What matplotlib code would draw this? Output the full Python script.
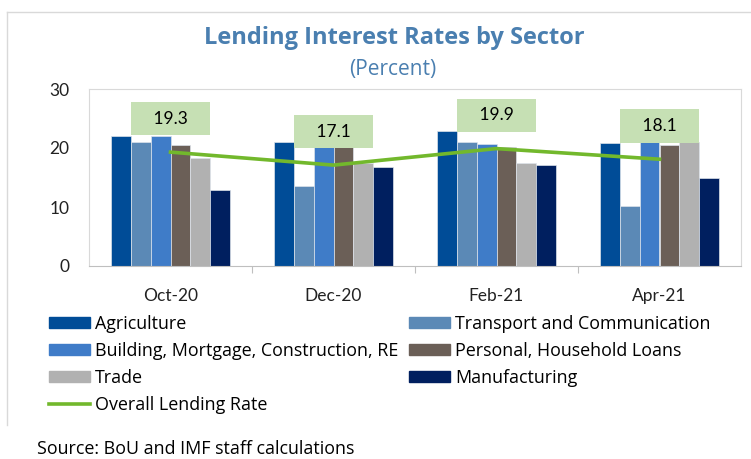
import matplotlib.pyplot as plt
import numpy as np
from matplotlib.patches import Patch
from matplotlib.lines import Line2D

plt.rcParams['font.family'] = ['Lato', 'DejaVu Sans']
fonte_texto = ['Open Sans', 'DejaVu Sans']

# dados
periodos = ['Oct-20', 'Dec-20', 'Feb-21', 'Apr-21']
setores = ['Agriculture', 'Transport and Communication',
           'Building, Mortgage, Construction, RE', 'Personal, Household Loans',
           'Trade', 'Manufacturing']
agriculture = [22.1, 21.1, 22.8, 20.9]
transport = [21.1, 13.6, 21.1, 10.2]
building = [22.1, 20.2, 20.7, 21.0]
personal = [20.5, 20.2, 20.2, 20.5]
trade = [18.3, 17.4, 17.5, 21.0]
manufacturing = [12.9, 16.7, 17.2, 15.0]
overall = [19.3, 17.1, 19.9, 18.1]

cores = ['#004c97', '#5b89b6', '#3f7cc8', '#6b5f57', '#b1b1b1', '#001f5f']
verde = '#72b82c'
caixa = '#c6e0b4'
azul_titulo = '#4a7fb0'
cinza = '#d9d9d9'

series = [agriculture, transport, building, personal, trade, manufacturing]

fig = plt.figure(figsize=(7.51, 4.59), dpi=100)
ax = fig.add_axes([89 / 751, 1 - 266 / 459, 652 / 751, 177 / 459])

x = np.arange(len(periodos))
larg = 0.121
n = len(series)
for i, (vals, cor) in enumerate(zip(series, cores)):
    ax.bar(x + (i - (n - 1) / 2) * larg, vals, width=larg, color=cor,
           edgecolor='#dde3ea', linewidth=0.5, zorder=2)

ax.plot(x, overall, color=verde, linewidth=2.6, zorder=3)
for xi, v in zip(x, overall):
    ax.annotate(f'   {v}   ', (xi, v), xytext=(0, 24), textcoords='offset points',
                ha='center', va='center', fontsize=12.5, color='black', zorder=4,
                bbox=dict(boxstyle='square,pad=0.5', fc=caixa, ec='none'))

ax.set_xlim(-0.5, 3.5)
ax.set_ylim(0, 30)
ax.set_yticks([0, 10, 20, 30])
ax.set_xticks(x)
ax.set_xticklabels(periodos)
ax.set_xticks([0.5, 1.5, 2.5], minor=True)
ax.tick_params(axis='y', length=0, pad=14, labelsize=12.5, labelcolor='#222222')
ax.tick_params(axis='x', which='major', length=0, pad=16, labelsize=12.5, labelcolor='#222222')
ax.tick_params(axis='x', which='minor', length=5, color='#bfbfbf', width=0.8)
for lado in ['top', 'left', 'right']:
    ax.spines[lado].set_color(cinza)
ax.spines['bottom'].set_color('#bfbfbf')

# títulos
fig.text(394 / 751, 1 - 38 / 459, 'Lending Interest Rates by Sector', ha='center', va='center',
         fontsize=17, fontweight='bold', color=azul_titulo, family=fonte_texto)
fig.text(393 / 751, 1 - 69 / 459, '(Percent)', ha='center', va='center',
         fontsize=15, color=azul_titulo, family=fonte_texto)

# legenda em duas colunas
h = [Patch(color=c) for c in cores]
linha = Line2D([], [], color=verde, linewidth=2.6)
kw = dict(frameon=False, prop={'family': fonte_texto, 'size': 12.9}, handlelength=2.3,
          handleheight=0.55, handletextpad=0.28, labelspacing=0.5, borderpad=0, borderaxespad=0)
fig.legend([h[0], h[2], h[4], linha], [setores[0], setores[2], setores[4], 'Overall Lending Rate'],
           loc='upper left', bbox_to_anchor=(49 / 751, 1 - 315 / 459), **kw)
fig.legend([h[1], h[3], h[5]], [setores[1], setores[3], setores[5]],
           loc='upper left', bbox_to_anchor=(409 / 751, 1 - 315 / 459), **kw)

fig.text(37 / 751, 1 - 449 / 459, 'Source: BoU and IMF staff calculations', ha='left', va='center',
         fontsize=12.9, color='black', family=fonte_texto)

# borda externa
fig.add_artist(Line2D([7 / 751, 1], [1 - 12 / 459] * 2, color=cinza, linewidth=1))
fig.add_artist(Line2D([7 / 751] * 2, [1 - 12 / 459, 1 - 425 / 459], color=cinza, linewidth=1))

fig.savefig('out.png', dpi=100)
